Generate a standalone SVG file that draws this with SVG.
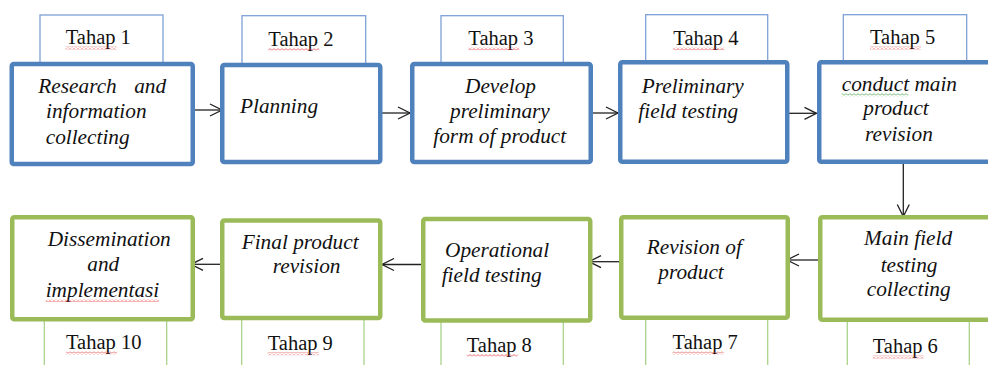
<svg xmlns="http://www.w3.org/2000/svg" width="988" height="365" viewBox="0 0 988 365">
  <style>
    .stage { fill: #ffffff; stroke-width: 4.5; stroke-linejoin: round; }
    .blue { stroke: #4f81bd; }
    .green { stroke: #9bbb59; }
    .tag { fill: #ffffff; stroke-width: 1.3; }
    .tag-blue { stroke: #7fa1d6; }
    .tag-green { stroke: #a9d38a; }
    .tagtext { font-family: "Liberation Serif", "Times New Roman", serif; font-size: 20.5px; fill: #111111; }
    .body { font-family: "Liberation Serif", "Times New Roman", serif; font-size: 21.3px; font-style: italic; fill: #111111; }
    .link { fill: none; stroke: #222222; stroke-width: 1.3; }
  </style>
  <defs>
    <marker id="arr" markerWidth="14" markerHeight="14" refX="13" refY="7" orient="auto" markerUnits="userSpaceOnUse">
      <path d="M1,1 L13,7 L1,13" fill="none" stroke="#222222" stroke-width="1.3"/>
    </marker>
    <pattern id="wavyRed" width="4" height="3" patternUnits="userSpaceOnUse">
      <path d="M0,2.5 L2,0.5 L4,2.5" fill="none" stroke="#e23b3b" stroke-width="0.8"/>
    </pattern>
    <pattern id="wavyGreen" width="4" height="3" patternUnits="userSpaceOnUse">
      <path d="M0,2.5 L2,0.5 L4,2.5" fill="none" stroke="#3c9c3c" stroke-width="0.8"/>
    </pattern>
  </defs>

  <!-- connectors -->
  <g id="connectors">
    <line class="link" x1="195" y1="110" x2="222" y2="110" marker-end="url(#arr)"/>
    <line class="link" x1="382" y1="113" x2="410" y2="113" marker-end="url(#arr)"/>
    <line class="link" x1="592" y1="113" x2="618" y2="113" marker-end="url(#arr)"/>
    <line class="link" x1="788" y1="113.3" x2="816.5" y2="113.3" marker-end="url(#arr)"/>
    <line class="link" x1="903.3" y1="164" x2="903.3" y2="216.5" marker-end="url(#arr)"/>
    <line class="link" x1="818" y1="260" x2="787" y2="260" marker-end="url(#arr)"/>
    <line class="link" x1="620" y1="261.7" x2="589" y2="261.7" marker-end="url(#arr)"/>
    <line class="link" x1="421" y1="264.5" x2="382" y2="264.5" marker-end="url(#arr)"/>
    <line class="link" x1="221" y1="264.3" x2="191" y2="264.3" marker-end="url(#arr)"/>
  </g>

  <!-- Stage 1 -->
  <g id="stage1">
    <rect class="tag tag-blue" x="40" y="15" width="123" height="48"/>
    <text class="tagtext" x="65.7" y="44.3">Tahap 1</text>
    <rect x="65.7" y="46.5" width="51" height="3" fill="url(#wavyRed)"/>
    <rect class="stage blue" x="11.75" y="64" width="181" height="100" rx="2"/>
    <text class="body" x="38.3" y="92.7">Research</text>
    <text class="body" x="134.2" y="92.7">and</text>
    <text class="body" x="46" y="118.3">information</text>
    <text class="body" x="45.7" y="144">collecting</text>
  </g>

  <!-- Stage 2 -->
  <g id="stage2">
    <rect class="tag tag-blue" x="242" y="15.7" width="123.7" height="48"/>
    <text class="tagtext" x="268.3" y="46">Tahap 2</text>
    <rect x="268.3" y="48.2" width="51" height="3" fill="url(#wavyRed)"/>
    <rect class="stage blue" x="222.25" y="65" width="158" height="97" rx="2"/>
    <text class="body" x="240" y="112.7">Planning</text>
  </g>

  <!-- Stage 3 -->
  <g id="stage3">
    <rect class="tag tag-blue" x="441" y="15.7" width="122.3" height="47"/>
    <text class="tagtext" x="468.3" y="45">Tahap 3</text>
    <rect x="468.3" y="47.2" width="51" height="3" fill="url(#wavyRed)"/>
    <rect class="stage blue" x="412.25" y="64" width="178.5" height="98" rx="2"/>
    <text class="body" x="465" y="92.7">Develop</text>
    <text class="body" x="450" y="118.3">preliminary</text>
    <text class="body" x="433.3" y="143.3">form of product</text>
  </g>

  <!-- Stage 4 -->
  <g id="stage4">
    <rect class="tag tag-blue" x="645.7" y="14.7" width="122" height="47"/>
    <text class="tagtext" x="673.3" y="45">Tahap 4</text>
    <rect x="673.3" y="47.2" width="51" height="3" fill="url(#wavyRed)"/>
    <rect class="stage blue" x="620.25" y="62.25" width="167" height="99.5" rx="2"/>
    <text class="body" x="641.7" y="93.3">Preliminary</text>
    <text class="body" x="638.3" y="118.3">field testing</text>
  </g>

  <!-- Stage 5 -->
  <g id="stage5">
    <rect class="tag tag-blue" x="843.3" y="14.7" width="123.4" height="47"/>
    <text class="tagtext" x="870" y="44.3">Tahap 5</text>
    <rect x="870" y="46.5" width="51" height="3" fill="url(#wavyRed)"/>
    <rect class="stage blue" x="819.25" y="62.25" width="200" height="99.5" rx="2"/>
    <text class="body" x="841.7" y="90.7">conduct main</text>
    <rect x="841.7" y="93.3" width="66.6" height="3" fill="url(#wavyGreen)"/>
    <text class="body" x="863.3" y="115">product</text>
    <text class="body" x="865" y="140.7">revision</text>
  </g>

  <!-- Stage 6 -->
  <g id="stage6">
    <rect class="tag tag-green" x="847.3" y="320" width="122" height="60"/>
    <text class="tagtext" x="872.7" y="353.3">Tahap 6</text>
    <rect x="872.7" y="355.5" width="51" height="3" fill="url(#wavyRed)"/>
    <rect class="stage green" x="820.25" y="217.25" width="200" height="102.5" rx="2"/>
    <text class="body" x="864" y="245">Main field</text>
    <text class="body" x="880.7" y="271.7">testing</text>
    <text class="body" x="866.7" y="296">collecting</text>
  </g>

  <!-- Stage 7 -->
  <g id="stage7">
    <rect class="tag tag-green" x="645.7" y="318" width="122" height="60"/>
    <text class="tagtext" x="672.6" y="349.3">Tahap 7</text>
    <rect x="672.6" y="351.5" width="51" height="3" fill="url(#wavyRed)"/>
    <rect class="stage green" x="621.25" y="217.25" width="166.5" height="100.5" rx="2"/>
    <text class="body" x="646.7" y="254.3">Revision of</text>
    <text class="body" x="658.3" y="279.3">product</text>
  </g>

  <!-- Stage 8 -->
  <g id="stage8">
    <rect class="tag tag-green" x="441" y="320" width="122.3" height="60"/>
    <text class="tagtext" x="466.7" y="351.7">Tahap 8</text>
    <rect x="466.7" y="353.9" width="51" height="3" fill="url(#wavyRed)"/>
    <rect class="stage green" x="423.25" y="219" width="167" height="101.5" rx="2"/>
    <text class="body" x="445" y="256.7">Operational</text>
    <text class="body" x="441.7" y="281.7">field testing</text>
  </g>

  <!-- Stage 9 -->
  <g id="stage9">
    <rect class="tag tag-green" x="241.7" y="318" width="122.3" height="60"/>
    <text class="tagtext" x="267.7" y="350">Tahap 9</text>
    <rect x="267.7" y="352.2" width="51" height="3" fill="url(#wavyRed)"/>
    <rect class="stage green" x="222.25" y="220.5" width="158" height="97.5" rx="2"/>
    <text class="body" x="241.7" y="249.3">Final product</text>
    <text class="body" x="272.7" y="273.3">revision</text>
  </g>

  <!-- Stage 10 -->
  <g id="stage10">
    <rect class="tag tag-green" x="44.3" y="319" width="122.4" height="60"/>
    <text class="tagtext" x="66" y="349.3">Tahap 10</text>
    <rect x="66" y="351.5" width="51" height="3" fill="url(#wavyRed)"/>
    <rect class="stage green" x="12.25" y="217.25" width="180.5" height="102" rx="2"/>
    <text class="body" x="47.7" y="245.7">Dissemination</text>
    <text class="body" x="87.3" y="270.7">and</text>
    <text class="body" x="45.7" y="296.7">implementasi</text>
    <rect x="45.7" y="299" width="113" height="3" fill="url(#wavyRed)"/>
  </g>
</svg>
